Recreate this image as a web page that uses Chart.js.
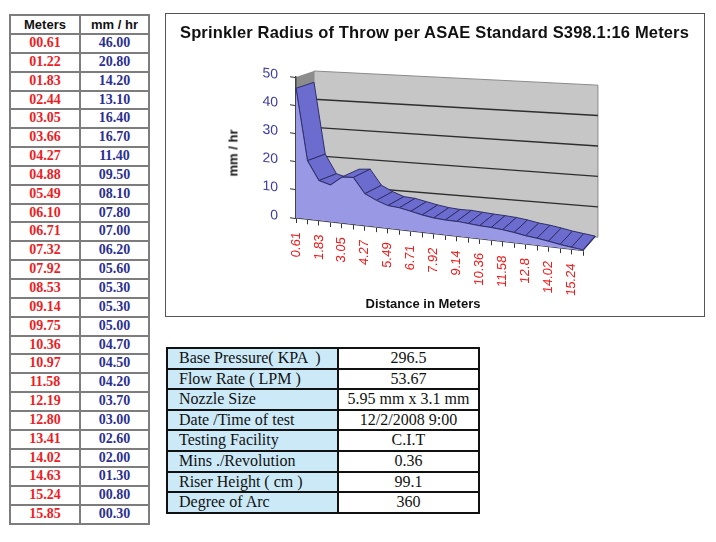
<!DOCTYPE html>
<html>
<head>
<meta charset="utf-8">
<script src="https://cdn.jsdelivr.net/npm/chart.js@4.4.1/dist/chart.umd.min.js"></script>
<style>
  body { margin: 0; width: 716px; height: 542px; background: #fff; position: relative; overflow: hidden;
         font-family: "Liberation Sans", Arial, sans-serif; }
  #meters { position: absolute; left: 9px; top: 14px; width: 139px; border-collapse: collapse; table-layout: fixed; }
  #meters th, #meters td { border: 2px solid #7d7d7d; padding: 0; text-align: center; }
  #meters th { font: bold 13px "Liberation Sans", Arial, sans-serif; color: #111; height: 17px; line-height: 17px; }
  #meters td { font: bold 14px "Liberation Serif", "Times New Roman", serif; height: 16.85px; line-height: 16.85px; }
  #meters td.m { color: #ee1c24; }
  #meters td.r { color: #2b2f8f; }
  #chartBox { position: absolute; left: 165px; top: 13px; width: 540px; height: 304px;
              border: 1.5px solid #555; box-sizing: border-box; }
  #chart { position: absolute; left: 166px; top: 14px; }
  .lbl { position: absolute; font-weight: bold; color: #111; white-space: nowrap; }
  #title { left: 166px; width: 537px; top: 22px; text-align: center; font-size: 16.5px; line-height: 21px; letter-spacing: 0.15px; }
  #ytitle { left: 233px; top: 153px; font-size: 13px; transform: translate(-50%, -50%) rotate(-90deg); }
  #xtitle { left: 423px; top: 303px; font-size: 13px; transform: translate(-50%, -50%); }
  #info { position: absolute; left: 166px; top: 347px; width: 312px; border-collapse: collapse; table-layout: fixed;
          font: 16px "Liberation Serif", "Times New Roman", serif; color: #111; }
  #info td { border: 2px solid #111; padding: 0; height: 18.6px; line-height: 18.6px; white-space: pre; }
  #info td.k { background: #cce9f7; padding-left: 11px; }
  #info td.v { text-align: center; }
</style>
</head>
<body>

<table id="meters"><colgroup><col style="width:70px"><col style="width:69px"></colgroup><tbody></tbody></table>

<div id="chartBox"></div>
<canvas id="chart" width="537" height="301"></canvas>
<div class="lbl" id="title">Sprinkler Radius of Throw per ASAE Standard S398.1:16 Meters</div>
<div class="lbl" id="ytitle">mm / hr</div>
<div class="lbl" id="xtitle">Distance in Meters</div>

<table id="info"><colgroup><col style="width:171px"><col style="width:141px"></colgroup><tbody></tbody></table>

<script>
// Data

let meters = [0.61, 1.22, 1.83, 2.44, 3.05, 3.66, 4.27, 4.88, 5.49, 6.10, 6.71, 7.32, 7.92,
	8.53, 9.14, 9.75, 10.36, 10.97, 11.58, 12.19, 12.80, 13.41, 14.02, 14.63, 15.24, 15.85];
let rates = [46.00, 20.80, 14.20, 13.10, 16.40, 16.70, 11.40, 9.50, 8.10, 7.80, 7.00, 6.20, 5.60,
	5.30, 5.30, 5.00, 4.70, 4.50, 4.20, 3.70, 3.00, 2.60, 2.00, 1.30, 0.80, 0.30];
let yTicks = [0, 10, 20, 30, 40, 50];

let infoLabels = ["Base Pressure( KPA  )", "Flow Rate ( LPM )", "Nozzle Size", "Date /Time of test",
	"Testing Facility", "Mins ./Revolution", "Riser Height ( cm )", "Degree of Arc"];
let infoValues = ["296.5", "53.67", "5.95 mm x 3.1 mm", "12/2/2008 9:00", "C.I.T", "0.36", "99.1", "360"];

/* ==============================
Tables
=================================*/

let pad = n => n.toFixed(2).padStart(5, "0");
let rows = "<tr><th>Meters</th><th>mm / hr</th></tr>";
meters.forEach((m, i) => {
	rows += `<tr><td class="m">${pad(m)}</td><td class="r">${pad(rates[i])}</td></tr>`;
});
document.querySelector("#meters tbody").innerHTML = rows;

let info = "";
infoLabels.forEach((k, i) => {
	info += `<tr><td class="k">${k}</td><td class="v">${infoValues[i]}</td></tr>`;
});
document.querySelector("#info tbody").innerHTML = info;

/* ==============================
Fake 3d area chart
=================================*/

const KF = 0.114;        // slant of the front face (axes + data)
const DX_L = 18;         // depth of the box, x, left end
const DX_R = 12;         // depth of the box, x, right end
const DY_L = -6;         // depth of the box, y, at the left end
const DROP_R = 25;       // back wall floor drops this much at the right end
const STRETCH_R = 1.078; // back wall is a bit taller at the right end

// back wall point behind a front point (x, value)
function backPoint(chart, x, v) {
	let a = chart.chartArea, y = chart.scales.y;
	let t = (x - a.left) / (a.right - a.left);
	let y0 = y.getPixelForValue(0), yv = y.getPixelForValue(v);
	let yl = yv + DY_L;
	let yr = y0 + DY_L + DROP_R - (y0 - yv) * STRETCH_R;
	return { x: x + DX_L + (DX_R - DX_L) * t, y: yl + (yr - yl) * t };
}

// front point as it shows on screen
function frontPoint(chart, x, py) {
	return { x: x, y: py + KF * (x - chart.chartArea.left) };
}

function poly(ctx, pts) {
	ctx.beginPath();
	ctx.moveTo(pts[0].x, pts[0].y);
	pts.slice(1).forEach(p => ctx.lineTo(p.x, p.y));
	ctx.closePath();
}

const box3d = {
	id: "box3d",
	beforeDraw(chart) {
		let { ctx, chartArea: a } = chart;
		let top = yTicks[yTicks.length - 1];

		// left wall
		ctx.fillStyle = "#8c8c8c";
		poly(ctx, [
			{ x: a.left, y: a.top }, backPoint(chart, a.left, top),
			backPoint(chart, a.left, 0), { x: a.left, y: a.bottom }
		]);
		ctx.fill();

		// back wall
		ctx.fillStyle = "#c6c6c6";
		ctx.strokeStyle = "#8a8a8a";
		ctx.lineWidth = 1;
		poly(ctx, [
			backPoint(chart, a.left, top), backPoint(chart, a.right + 3, top),
			backPoint(chart, a.right + 3, 0), backPoint(chart, a.left, 0)
		]);
		ctx.fill();
		ctx.stroke();

		// grid lines on back wall
		ctx.strokeStyle = "#2e2e2e";
		ctx.lineWidth = 1.4;
		yTicks.slice(1, -1).forEach(v => {
			let p = backPoint(chart, a.left, v), q = backPoint(chart, a.right + 3, v);
			ctx.beginPath();
			ctx.moveTo(p.x, p.y);
			ctx.lineTo(q.x, q.y);
			ctx.stroke();
		});

		// everything chart.js draws from here on is slanted
		ctx.save();
		ctx.transform(1, KF, 0, 1, 0, -KF * a.left);
	},
	beforeDatasetsDraw(chart) {
		let { ctx, chartArea: a } = chart;
		ctx.save();
		ctx.transform(1, -KF, 0, 1, 0, KF * a.left);

		let pts = chart.getDatasetMeta(0).data;
		let vals = chart.data.datasets[0].data;
		ctx.fillStyle = "rgb(108,108,206)";
		ctx.strokeStyle = "#2f2f6c";
		ctx.lineWidth = 1;
		for (let i = 0; i < pts.length - 1; i++) {
			let f0 = frontPoint(chart, pts[i].x, pts[i].y);
			let f1 = frontPoint(chart, pts[i + 1].x, pts[i + 1].y);
			let b0 = backPoint(chart, pts[i].x, vals[i]);
			let b1 = backPoint(chart, pts[i + 1].x, vals[i + 1]);
			// skip the top faces that turn away from the eye
			if ((f1.x - f0.x) * (b0.y - f0.y) - (f1.y - f0.y) * (b0.x - f0.x) >= 0) continue;
			poly(ctx, [f0, f1, b1, b0]);
			ctx.fill();
			ctx.stroke();
		}

		// right end cap
		let n = pts.length - 1;
		ctx.fillStyle = "rgb(120,120,210)";
		poly(ctx, [
			frontPoint(chart, pts[n].x, pts[n].y), backPoint(chart, pts[n].x, vals[n]),
			backPoint(chart, pts[n].x, 0), frontPoint(chart, pts[n].x, a.bottom)
		]);
		ctx.fill();
		ctx.stroke();
		ctx.restore();
	},
	afterDraw(chart) {
		chart.ctx.restore();
	}
};

let sprinklerChart = new Chart(document.getElementById("chart").getContext("2d"), {
	type: "line",
	data: {
		labels: meters.map(String),
		datasets: [
			{
				data: rates,
				fill: "origin",
				backgroundColor: "rgb(152,152,228)",
				borderColor: "#2f2f6c",
				borderWidth: 1,
				pointRadius: 0,
				tension: 0
			}
		]
	},
	options: {
		responsive: false,
		animation: false,
		layout: { padding: { left: 90, right: 120, top: 63, bottom: 37 } },
		plugins: {
			legend: { display: false },
			tooltip: { enabled: false }
		},
		scales: {
			x: {
				grid: { drawOnChartArea: false, tickLength: 5, color: "#333" },
				border: { color: "#444", width: 1.5 },
				ticks: {
					autoSkip: false,
					minRotation: 90,
					maxRotation: 90,
					padding: 9,
					color: "#f01818",
					font: { family: "Liberation Sans", size: 13 },
					callback: function (val, i) {
						return i % 2 === 0 ? this.getLabelForValue(val) : "";
					}
				},
				afterFit: s => { s.height = 60; }
			},
			y: {
				min: yTicks[0],
				max: yTicks[yTicks.length - 1],
				grid: { drawOnChartArea: false, tickLength: 6, color: "#333" },
				border: { color: "#444", width: 1.5 },
				ticks: {
					stepSize: 10,
					padding: 12,
					color: "#3c3ca0",
					font: { family: "Liberation Sans", size: 14 }
				},
				afterFit: s => { s.width = 40; }
			}
		}
	},
	plugins: [box3d]
});
</script>
</body>
</html>
